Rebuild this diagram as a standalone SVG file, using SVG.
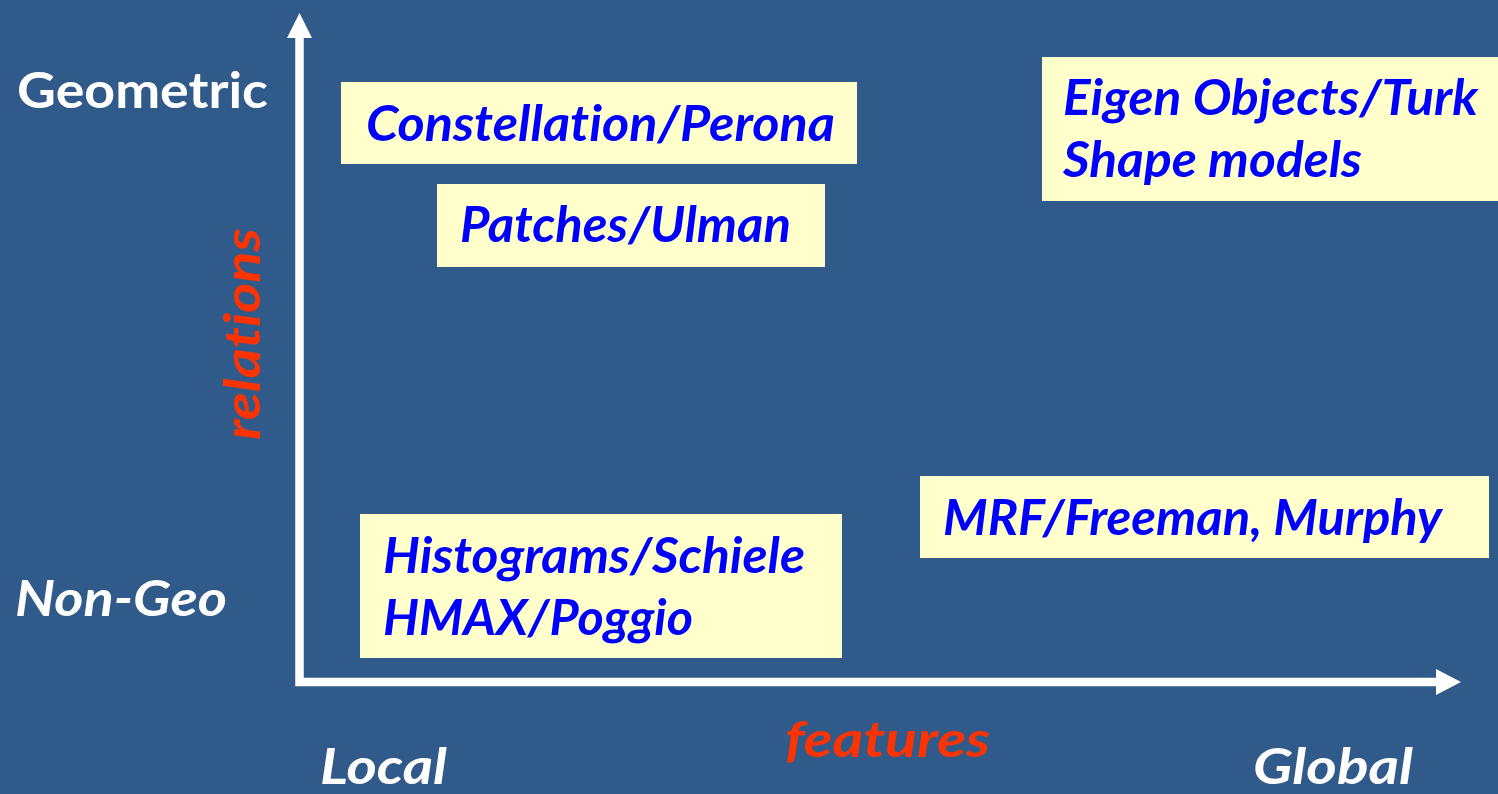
<svg xmlns="http://www.w3.org/2000/svg" width="1498" height="794" viewBox="0 0 1498 794">
<style>
.bg{fill:#2F5A89}
.box{fill:#FFFFCC}
.t{font-family:Lato,"Open Sans","Liberation Sans",sans-serif;font-weight:bold;font-style:italic;font-size:50px;font-variant-ligatures:none}
.bt{fill:#0000FF}
.wt{fill:#FFFFFF}
.ot{fill:#FF3300}
.axis{fill:none;stroke:#FFFFFF;stroke-width:8.5;stroke-linejoin:miter}
.head{fill:#FFFFFF}
</style>
<rect class="bg" x="0" y="0" width="1498" height="794"/>
<g id="connectors">
<path class="axis" d="M299.5,36 V682 H1438"/>
<polygon class="head" points="299.5,13 312,38 287,38"/>
<polygon class="head" points="1461,682 1436,669 1436,695"/>
</g>
<g id="label-geometric"><text class="t wt" x="17" y="108" style="font-style:normal" textLength="251" lengthAdjust="spacingAndGlyphs">Geometric</text></g>
<g id="label-nongeo"><text class="t wt" x="15" y="616" textLength="212" lengthAdjust="spacingAndGlyphs">Non-Geo</text></g>
<g id="label-local"><text class="t wt" x="320" y="784" textLength="127" lengthAdjust="spacingAndGlyphs">Local</text></g>
<g id="label-global"><text class="t wt" x="1253" y="784" textLength="160" lengthAdjust="spacingAndGlyphs">Global</text></g>
<g id="label-features"><text class="t ot" x="785" y="757" textLength="205" lengthAdjust="spacingAndGlyphs">features</text></g>
<g id="label-relations"><text class="t ot" transform="translate(260,440) rotate(-90)" x="0" y="0" textLength="212" lengthAdjust="spacingAndGlyphs">relations</text></g>
<g id="node-constellation">
<rect class="box" x="341" y="82" width="516" height="82"/>
<text class="t bt" x="366" y="141" textLength="469" lengthAdjust="spacingAndGlyphs">Constellation/Perona</text>
</g>
<g id="node-patches">
<rect class="box" x="437" y="184" width="388" height="83"/>
<text class="t bt" x="460" y="242" textLength="331" lengthAdjust="spacingAndGlyphs">Patches/Ulman</text>
</g>
<g id="node-eigen">
<rect class="box" x="1042" y="57" width="456" height="144"/>
<text class="t bt" x="1063" y="115" textLength="415" lengthAdjust="spacingAndGlyphs">Eigen Objects/Turk</text>
<text class="t bt" x="1063" y="177" textLength="299" lengthAdjust="spacingAndGlyphs">Shape models</text>
</g>
<g id="node-mrf">
<rect class="box" x="920" y="476" width="569" height="82"/>
<text class="t bt" x="943" y="535" textLength="499" lengthAdjust="spacingAndGlyphs">MRF/Freeman, Murphy</text>
</g>
<g id="node-histograms">
<rect class="box" x="360" y="514" width="482" height="144"/>
<text class="t bt" x="383" y="573" textLength="422" lengthAdjust="spacingAndGlyphs">Histograms/Schiele</text>
<text class="t bt" x="383" y="635" textLength="310" lengthAdjust="spacingAndGlyphs">HMAX/Poggio</text>
</g>
</svg>
